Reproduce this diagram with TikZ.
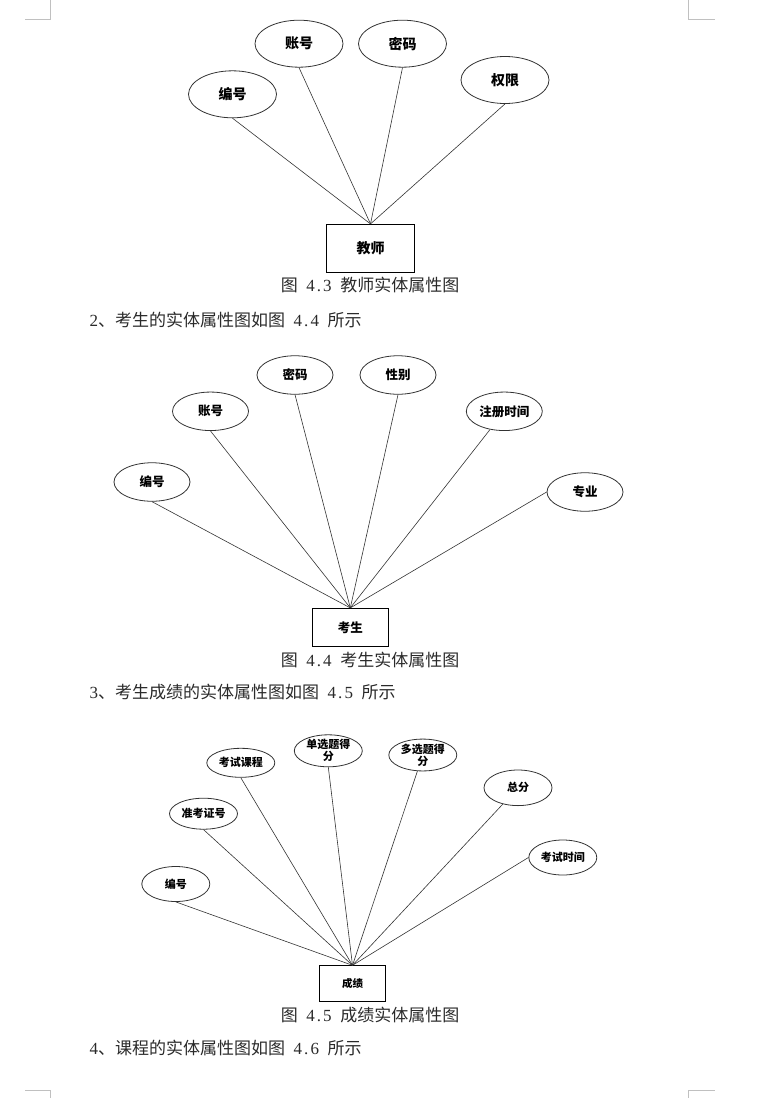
\documentclass[tikz,border=0pt]{standalone}
\usepackage{fontspec}
\setmainfont{Liberation Serif}
\newfontfamily\cjk{Noto Sans CJK SC}
\usetikzlibrary{shapes.geometric}
\definecolor{edgegray}{HTML}{333333}
\definecolor{markgray}{HTML}{C0C0C0}
\definecolor{textgray}{HTML}{2A2A2A}
\newcommand{\hw}[1]{\makebox[.5em]{#1}}
\newcommand{\fignum}[3]{\hw{#1}\hw{.}\hw{#2}{\cjk #3}}
\newcommand{\figcap}[3]{{\cjk 图}\hspace{.5em}\hw{#1}\hw{.}\hw{#2}\hspace{.5em}{\cjk #3}}

\begin{document}
\begin{tikzpicture}[x=1pt,y=-1pt,
 attr/.style={ellipse, draw=edgegray, line width=0.8pt, inner sep=0pt, align=center},
 bigattr/.style={attr, minimum width=88pt, minimum height=47pt, font=\cjk\bfseries\fontsize{14}{15}\selectfont},
 midattr/.style={attr, minimum width=76pt, minimum height=38.5pt, font=\cjk\bfseries\fontsize{12.5}{13}\selectfont},
 smallattr/.style={attr, minimum width=68pt, font=\cjk\bfseries\fontsize{11}{12}\selectfont},
 entity/.style={rectangle, draw=black, line width=0.8pt, inner sep=0pt},
 link/.style={draw=edgegray, line width=0.6pt},
 caption/.style={anchor=center, text=textgray, font=\fontsize{17}{20}\selectfont},
 bodyline/.style={anchor=west, text=textgray, font=\fontsize{17}{20}\selectfont}]
 \useasboundingbox (0,0) rectangle (766,1098);
 % page corner marks
 \draw[markgray, line width=0.8pt] (25,19.3) -- (50.7,19.3) -- (50.7,0);
 \draw[markgray, line width=0.8pt] (688.3,0) -- (688.3,19.3) -- (714.5,19.3);
 \draw[markgray, line width=0.8pt] (25,1090.3) -- (50.7,1090.3) -- (50.7,1098);
 \draw[markgray, line width=0.8pt] (688.3,1098) -- (688.3,1090.3) -- (715,1090.3);

 % figure 4.3
 \node[entity, minimum width=87.6pt, minimum height=48pt, font=\cjk\bfseries\fontsize{14}{15}\selectfont] (js) at (370.5,248.3) {教师};
 \node[bigattr] (jsbh) at (232.5,94.3) {编号};
 \node[bigattr] (jszh) at (299,43.7) {账号};
 \node[bigattr] (jsmm) at (402.5,43.7) {密码};
 \node[bigattr] (jsqx) at (505,80) {权限};
 \foreach \a in {jsbh,jszh,jsmm,jsqx} \draw[link] (js.north) -- (\a.south);
 \node[caption] (cap1) at (370,285) {\figcap{4}{3}{教师实体属性图}};
 \node[bodyline] (txt2) at (86,320) {\hw{2}{\cjk 、考生的实体属性图如图}\hspace{.5em}\fignum{4}{4}{}\hspace{.5em}{\cjk 所示}};

 % figure 4.4
 \node[entity, minimum width=76pt, minimum height=38.4pt, font=\cjk\bfseries\fontsize{12.5}{13}\selectfont] (ks) at (350.3,627.5) {考生};
 \node[midattr] (ksbh) at (152,482) {编号};
 \node[midattr] (kszh) at (210.5,411.3) {账号};
 \node[midattr] (ksmm) at (295,375) {密码};
 \node[midattr] (ksxb) at (398,375) {性别};
 \node[midattr] (kszc) at (504.3,411.3) {注册时间};
 \node[midattr] (kszy) at (585,492) {专业};
 \foreach \a in {ksbh,kszh,ksmm,ksxb} \draw[link] (ks.north) -- (\a.south);
 \draw[link] (ks.north) -- (kszc);
 \draw[link] (ks.north) -- (kszy.west);
 \node[caption] (cap2) at (370,660) {\figcap{4}{4}{考生实体属性图}};
 \node[bodyline] (txt3) at (86,692) {\hw{3}{\cjk 、考生成绩的实体属性图如图}\hspace{.5em}\fignum{4}{5}{}\hspace{.5em}{\cjk 所示}};

 % figure 4.5
 \node[entity, minimum width=66.4pt, minimum height=36pt, font=\cjk\bfseries\fontsize{10.5}{11}\selectfont] (cj) at (352.5,983.7) {成绩};
 \node[smallattr, minimum height=35pt] (cjbh) at (175.8,884) {编号};
 \node[smallattr, minimum height=31pt] (cjzk) at (203.5,813.7) {准考证号};
 \node[smallattr, minimum height=29pt] (cjkc) at (240.8,762.8) {考试课程};
 \node[smallattr, minimum height=32pt] (cjdx) at (328.3,750.8) {单选题得\\分};
 \node[smallattr, minimum height=30pt] (cjmx) at (422.8,755) {多选题得\\分};
 \node[smallattr, minimum height=35.6pt] (cjzf) at (518,787.8) {总分};
 \node[smallattr, minimum height=35pt] (cjsj) at (562.8,857.5) {考试时间};
 \foreach \a in {cjbh,cjzk,cjkc,cjdx} \draw[link] (cj.north) -- (\a.south);
 \draw[link] (cj.north) -- (cjmx);
 \draw[link] (cj.north) -- (cjzf);
 \draw[link] (cj.north) -- (cjsj.west);
 \node[caption] (cap3) at (370,1015) {\figcap{4}{5}{成绩实体属性图}};
 \node[bodyline] (txt4) at (86,1048) {\hw{4}{\cjk 、课程的实体属性图如图}\hspace{.5em}\fignum{4}{6}{}\hspace{.5em}{\cjk 所示}};
\end{tikzpicture}
\end{document}
